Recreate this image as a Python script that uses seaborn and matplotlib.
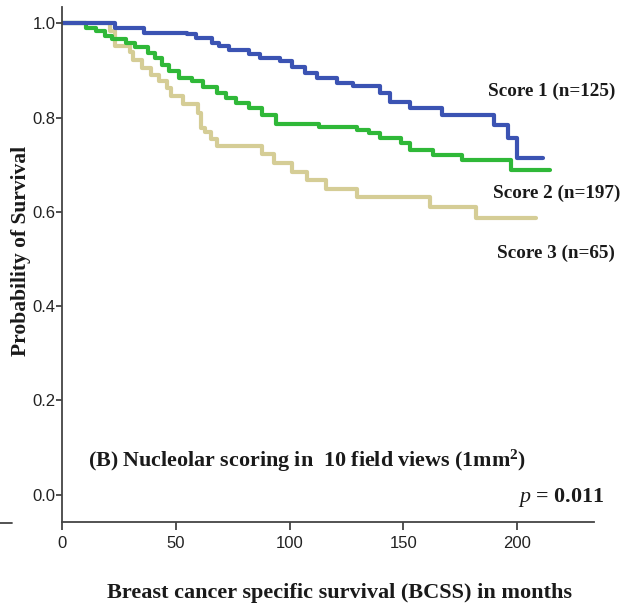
import matplotlib
matplotlib.use("Agg")
import matplotlib.pyplot as plt
import seaborn as sns
import pandas as pd
from matplotlib.lines import Line2D

# ---- data ----
s1_time = [0, 23, 36, 55, 59, 66, 69, 73.5, 82, 87, 96, 101, 107, 112, 121, 128,
           140, 144, 153, 167, 190, 196, 200, 211.5]
s1_surv = [1.0, 0.99, 0.98, 0.977, 0.968, 0.958, 0.951, 0.943, 0.934, 0.926, 0.919,
           0.908, 0.894, 0.884, 0.873, 0.866, 0.852, 0.834, 0.82, 0.806, 0.784,
           0.756, 0.715, 0.715]

s2_time = [0, 10.5, 15, 19, 22, 28, 32, 37.5, 41, 44, 47, 51.5, 57, 62, 68, 72, 76.5,
           82, 88, 94, 113, 129.5, 135, 140, 149, 153, 163, 176, 197.5, 214.5]
s2_surv = [1.0, 0.991, 0.983, 0.972, 0.966, 0.958, 0.949, 0.937, 0.926, 0.912, 0.898,
           0.884, 0.877, 0.864, 0.852, 0.841, 0.83, 0.82, 0.806, 0.787, 0.779, 0.773,
           0.767, 0.756, 0.745, 0.732, 0.72, 0.71, 0.689, 0.689]

s3_time = [0, 21, 23, 30, 31, 35, 39, 42.7, 46, 48, 53, 59.5, 61, 63, 65.5, 68, 88,
           93, 101, 107.5, 116, 129.5, 162, 182, 208.5]
s3_surv = [1.0, 0.983, 0.951, 0.94, 0.923, 0.905, 0.891, 0.877, 0.862, 0.845, 0.828,
           0.81, 0.777, 0.77, 0.755, 0.74, 0.722, 0.703, 0.685, 0.668, 0.649, 0.631,
           0.611, 0.587, 0.587]

groups = ["Score 1 (n=125)", "Score 2 (n=197)", "Score 3 (n=65)"]
colors = ["#3b53b3", "#2fb838", "#d5cd96"]
x_ticks = [0, 50, 100, 150, 200]
y_ticks = [0.0, 0.2, 0.4, 0.6, 0.8, 1.0]

df = pd.concat([
    pd.DataFrame({"time": s1_time, "surv": s1_surv, "group": groups[0]}),
    pd.DataFrame({"time": s2_time, "surv": s2_surv, "group": groups[1]}),
    pd.DataFrame({"time": s3_time, "surv": s3_surv, "group": groups[2]}),
], ignore_index=True)

sns.set_theme(style="ticks")
plt.rcParams["font.family"] = ["Liberation Sans", "DejaVu Sans"]
plt.rcParams["mathtext.fontset"] = "custom"
plt.rcParams["mathtext.rm"] = "Liberation Serif"
plt.rcParams["mathtext.it"] = "Liberation Serif:italic"
plt.rcParams["mathtext.bf"] = "Liberation Serif:bold"

fig = plt.figure(figsize=(6.34, 6.07), dpi=100)
ax = fig.add_axes([0.0983, 0.1405, 0.8387, 0.8485])

# draw in reverse order so blue is on top
for g, c in list(zip(groups, colors))[::-1]:
    sns.lineplot(data=df[df["group"] == g], x="time", y="surv", ax=ax,
                 color=c, linewidth=3.0, drawstyle="steps-post",
                 estimator=None, sort=False, legend=False)

ax.set_xlim(0, 234)
ax.set_ylim(-0.0573, 1.0352)
ax.set_xticks(x_ticks)
ax.set_xticklabels([str(v) for v in x_ticks])
ax.set_yticks(y_ticks)
ax.set_yticklabels([f"{v:.1f}" for v in y_ticks])
ax.tick_params(axis="x", length=6, width=1.2, color="#333333", labelsize=12,
               pad=4, labelcolor="#222222")
ax.tick_params(axis="y", length=4, width=1.2, color="#333333", labelsize=12,
               pad=1, labelcolor="#222222")
for sp in ["top", "right"]:
    ax.spines[sp].set_visible(False)
for sp in ["left", "bottom"]:
    ax.spines[sp].set_color("#444444")
    ax.spines[sp].set_linewidth(1.3)
ax.set_xlabel("")
ax.set_ylabel("")

serif = ["Liberation Serif", "DejaVu Serif"]
lab_pos = [(187.3, 0.855), (189.5, 0.640), (191.3, 0.513)]
for g, (lx, ly) in zip(groups, lab_pos):
    ax.text(lx, ly, g, family=serif, fontweight="bold", fontsize=13.8,
            color="#1a1a1a", ha="left", va="center")

ax.text(11.5, 0.071, "(B) Nucleolar scoring in  10 field views (1mm$^{\\mathbf{2}}$)",
        family=serif, fontweight="bold", fontsize=15.8, color="#1a1a1a",
        ha="left", va="center")
ax.text(238.5, -0.006, "$p$ = 0.011", family=serif, fontweight="bold", fontsize=15.8,
        color="#1a1a1a", ha="right", va="center")

fig.text(0.033, 0.586, "Probability of Survival", family=serif, fontweight="bold",
         fontsize=15.5, rotation=90, ha="center", va="center", color="#1a1a1a")
fig.text(0.536, 0.023, "Breast cancer specific survival (BCSS) in months",
         family=serif, fontweight="bold", fontsize=16, ha="center", va="center",
         color="#1a1a1a")

# small stray dash at left edge, level with the x-axis
fig.add_artist(Line2D([0.0, 0.019], [1 - 522.7 / 607] * 2, color="#444444",
                      linewidth=1.3, transform=fig.transFigure))

fig.savefig("out.png", dpi=100)
